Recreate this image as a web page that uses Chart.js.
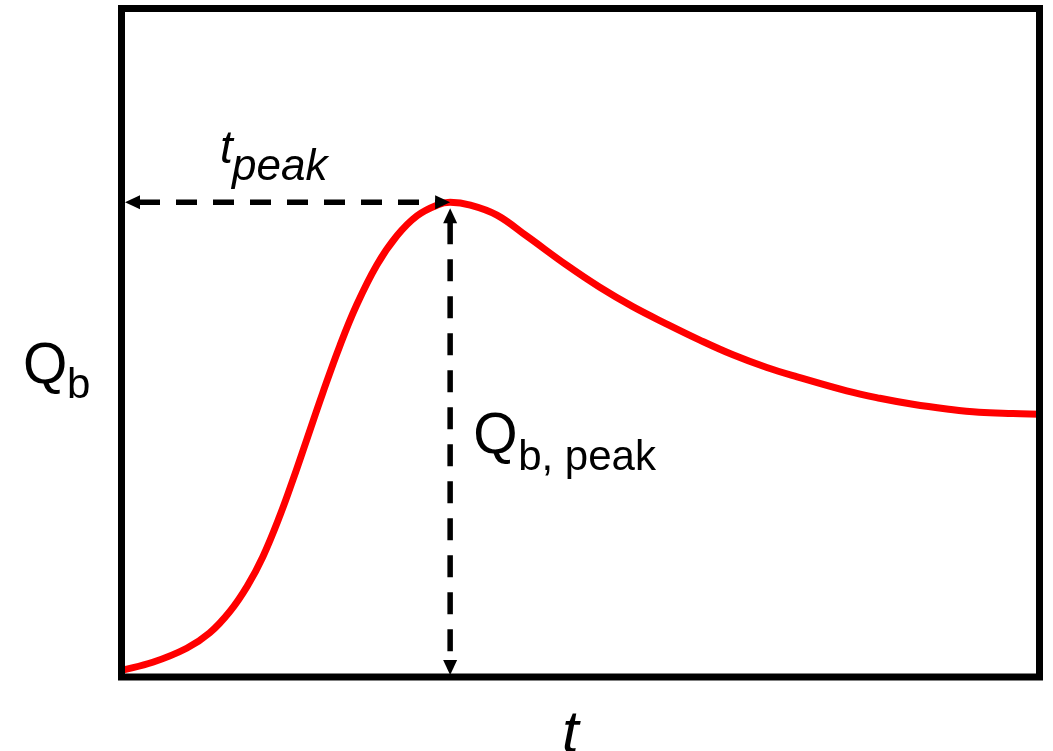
<!DOCTYPE html>
<html>
<head>
<meta charset="utf-8">
<script src="https://cdn.jsdelivr.net/npm/chart.js@4/dist/chart.umd.min.js"></script>
<style>
  html, body { margin: 0; padding: 0; background: #ffffff; }
  #wrap { position: relative; width: 1053px; height: 751px; }
</style>
</head>
<body>
<div id="wrap"><canvas id="hydro"></canvas></div>
<script>
// Hydrograph: discharge Q_b over time t (arbitrary units, 0..100)
const timeValues = [0, 3.4, 7.1, 9.6, 11.8, 13.7, 15.4, 17.3, 18.7, 20.2, 21.9, 23.8, 25.6, 27.8,
  30.0, 32.2, 34.4, 35.8, 38.0, 40.9, 44.2, 48.5, 52.1, 55.7, 59.4, 63.0, 66.6, 70.3, 73.6,
  79.0, 82.6, 86.2, 89.9, 93.4, 97.1, 100];
const dischargeValues = [1.0, 2.2, 4.3, 6.6, 9.8, 13.6, 18.0, 24.3, 29.6, 35.6, 42.4, 49.6, 55.6, 61.6,
  66.0, 69.0, 70.6, 71.0, 70.6, 69.1, 65.9, 61.6, 58.3, 55.4, 52.8, 50.4, 48.2, 46.3, 44.9,
  42.8, 41.7, 40.8, 40.1, 39.6, 39.4, 39.3];

// Peak of the hydrograph
const peakTime = [35.8];
const peakDischarge = [71.0];

const points = timeValues.map((t, i) => ({ x: t, y: dischargeValues[i] }));

function arrowHead(ctx, tipX, tipY, dirX, dirY, len, half) {
  const bx = tipX - dirX * len, by = tipY - dirY * len;
  const px = -dirY, py = dirX;
  ctx.beginPath();
  ctx.moveTo(tipX, tipY);
  ctx.lineTo(bx + px * half, by + py * half);
  ctx.lineTo(bx - px * half, by - py * half);
  ctx.closePath();
  ctx.fill();
}

// Frame, dashed peak markers and the labels
const hydroDecor = {
  id: 'hydroDecor',
  afterDatasetsDraw(chart) {
    const { ctx, chartArea: a, scales: { x, y } } = chart;
    const xp = x.getPixelForValue(peakTime[0]);
    const yp = y.getPixelForValue(peakDischarge[0]);
    ctx.save();
    ctx.fillStyle = '#000';
    ctx.strokeStyle = '#000';

    // time-to-peak arrow
    const hl = a.left + 3.5, hr = xp;
    ctx.lineWidth = 5.5;
    ctx.setLineDash([21, 16]);
    ctx.beginPath();
    ctx.moveTo(hl + 14, yp);
    ctx.lineTo(hr - 14, yp);
    ctx.stroke();
    ctx.setLineDash([]);
    arrowHead(ctx, hl, yp, -1, 0, 15, 7);
    arrowHead(ctx, hr, yp, 1, 0, 15, 7);

    // peak discharge arrow
    const vt = yp + 6, vb = a.bottom - 2;
    ctx.setLineDash([22, 15]);
    ctx.beginPath();
    ctx.moveTo(xp, vt + 14);
    ctx.lineTo(xp, vb - 12);
    ctx.stroke();
    ctx.setLineDash([]);
    arrowHead(ctx, xp, vt, 0, -1, 15, 7);
    arrowHead(ctx, xp, vb, 0, 1, 15, 7);

    // plot frame
    ctx.lineWidth = 7;
    ctx.strokeRect(a.left, a.top, a.right - a.left, a.bottom - a.top);

    // labels
    ctx.textBaseline = 'alphabetic';
    ctx.textAlign = 'left';
    const fam = '"Liberation Sans", Arial, sans-serif';

    ctx.font = 'italic 46px ' + fam;
    ctx.fillText('t', hl + 95, yp - 39);
    ctx.font = 'italic 44px ' + fam;
    ctx.fillText('peak', hl + 107, yp - 22);

    ctx.font = '57px ' + fam;
    ctx.fillText('Q', 23, 383);
    ctx.font = '42px ' + fam;
    ctx.fillText('b', 67, 398);

    ctx.font = '57px ' + fam;
    ctx.fillText('Q', xp + 23, 453);
    ctx.font = '42px ' + fam;
    ctx.fillText('b, peak', xp + 68, 470);

    ctx.font = 'italic 60px ' + fam;
    ctx.fillText('t', 562, 752);
    ctx.restore();
  }
};

new Chart(document.getElementById('hydro'), {
  type: 'line',
  data: {
    datasets: [{
      data: points,
      borderColor: '#ff0000',
      borderWidth: 7,
      pointRadius: 0,
      fill: false,
      tension: 0.4,
      borderCapStyle: 'round',
      borderJoinStyle: 'round'
    }]
  },
  options: {
    responsive: true,
    maintainAspectRatio: false,
    animation: false,
    layout: { padding: { left: 121.5, right: 13.5, top: 8.5, bottom: 74 } },
    plugins: { legend: { display: false }, tooltip: { enabled: false } },
    scales: {
      x: { type: 'linear', min: 0, max: 100, display: false },
      y: { type: 'linear', min: 0, max: 100, display: false }
    }
  },
  plugins: [hydroDecor]
});
</script>
</body>
</html>
